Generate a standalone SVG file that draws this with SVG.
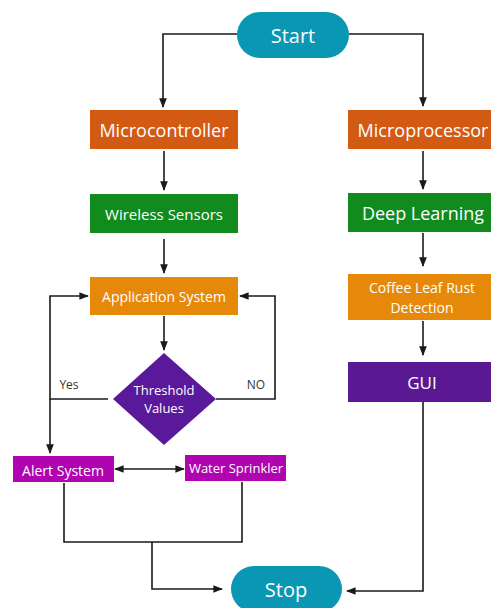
<svg xmlns="http://www.w3.org/2000/svg" width="491" height="608" viewBox="0 0 491 608">
<defs>
<marker id="ah" viewBox="0 0 10 10" refX="9" refY="5" markerWidth="6" markerHeight="6" orient="auto-start-reverse">
<path d="M0,1 L10,5 L0,9 z" fill="#1a1a1a"/>
</marker>
<style>
.t{font-family:"Open Sans","Noto Sans",sans-serif;fill:#fff;text-anchor:middle;dominant-baseline:central}
.l{font-family:"Open Sans","Noto Sans",sans-serif;fill:#333;font-size:12px;text-anchor:middle;dominant-baseline:central}
.c{fill:none;stroke:#1a1a1a;stroke-width:1.6}
.ca{fill:none;stroke:#1a1a1a;stroke-width:1.6;marker-end:url(#ah)}
</style>
</defs>
<rect width="491" height="608" fill="#fff"/>
<g id="connectors">
<path class="ca" d="M237,34 H163 V107"/>
<path class="ca" d="M349,34 H423 V106"/>
<path class="ca" d="M164,151 V190"/>
<path class="ca" d="M423,151 V189"/>
<path class="ca" d="M164,239 V273"/>
<path class="ca" d="M164,316 V350"/>
<path class="ca" d="M108,399 H50 V296 H88"/>
<path class="ca" d="M50,399 V453"/>
<path class="ca" d="M216,399 H275 V296 H240"/>
<path class="c" d="M115,469 H184" marker-start="url(#ah)" marker-end="url(#ah)"/>
<path class="c" d="M64,483 V542 H242 V482"/>
<path class="ca" d="M152,542 V589 H222"/>
<path class="ca" d="M423,233 V266"/>
<path class="ca" d="M423,321 V355"/>
<path class="ca" d="M423,402 V591 H347"/>
</g>
<g id="start"><rect x="237" y="12" width="112" height="46" rx="23" fill="#0A97B3"/><text class="t" x="293" y="35" font-size="20">Start</text></g>
<g id="microcontroller"><rect x="90" y="110" width="148" height="39" fill="#D35A12"/><text class="t" x="164" y="130" font-size="18">Microcontroller</text></g>
<g id="microprocessor"><rect x="348" y="110" width="150" height="39" fill="#D35A12"/><text class="t" x="423" y="130" font-size="18">Microprocessor</text></g>
<g id="wireless"><rect x="90" y="194" width="148" height="39" fill="#118A1E"/><text class="t" x="164" y="214" font-size="15">Wireless Sensors</text></g>
<g id="deeplearning"><rect x="348" y="193" width="150" height="39" fill="#118A1E"/><text class="t" x="423" y="213" font-size="18">Deep Learning</text></g>
<g id="application"><rect x="90" y="277" width="148" height="38" fill="#E6890B"/><text class="t" x="164" y="296" font-size="14">Application System</text></g>
<g id="coffee"><rect x="348" y="274" width="150" height="46" fill="#E6890B"/><text class="t" x="422" y="287" font-size="14">Coffee Leaf Rust</text><text class="t" x="422" y="307" font-size="14">Detection</text></g>
<g id="threshold"><path d="M164,353 L216,399 L164,445 L113,399 Z" fill="#5A189A"/><text class="t" x="164" y="390" font-size="13">Threshold</text><text class="t" x="164" y="408" font-size="13">Values</text></g>
<g id="gui"><rect x="348" y="362" width="150" height="40" fill="#5A1892"/><text class="t" x="422" y="382" font-size="17">GUI</text></g>
<g id="alert"><rect x="13" y="456" width="101" height="26" fill="#B004B0"/><text class="t" x="63" y="470" font-size="14">Alert System</text></g>
<g id="sprinkler"><rect x="185" y="455" width="101" height="26" fill="#B004B0"/><text class="t" x="236" y="468" font-size="13">Water Sprinkler</text></g>
<g id="stop"><rect x="231" y="566" width="111" height="46" rx="23" fill="#0A97B3"/><text class="t" x="286" y="589" font-size="20">Stop</text></g>
<text class="l" x="69" y="384">Yes</text>
<text class="l" x="256" y="384">NO</text>
</svg>
